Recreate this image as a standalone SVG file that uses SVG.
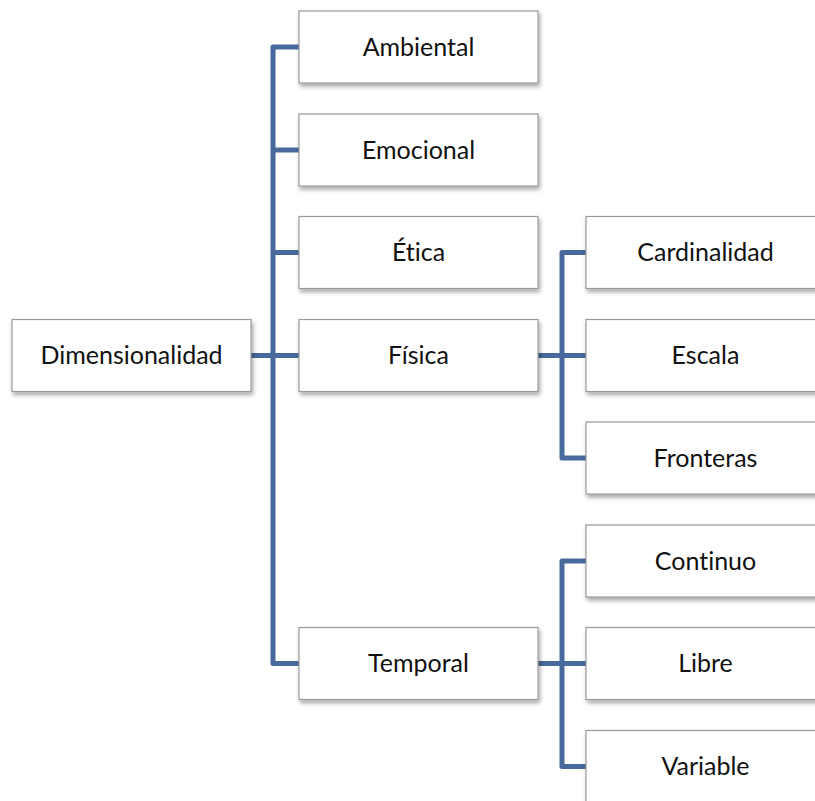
<svg xmlns="http://www.w3.org/2000/svg" width="815" height="801" viewBox="0 0 815 801">
  <defs>
    <filter id="shadow" x="-10%" y="-20%" width="125%" height="150%">
      <feDropShadow dx="1.5" dy="3" stdDeviation="2" flood-color="#000" flood-opacity="0.35"/>
    </filter>
    <style>
      .box { fill: #ffffff; stroke: #9a9a9a; stroke-width: 1.2; filter: url(#shadow); }
      .label { font-family: "Lato", "Liberation Sans", sans-serif; font-size: 25px; fill: #111; text-anchor: middle; font-variant-ligatures: none; font-feature-settings: "liga" 0, "dlig" 0; }
      .link { fill: none; stroke: #47699b; stroke-width: 5; stroke-linejoin: round; }
    </style>
  </defs>
  <rect width="815" height="801" fill="#ffffff"/>

  <!-- connectors -->
  <g id="connectors">
    <!-- root to first level -->
    <path class="link" d="M251 355.5 H299"/>
    <path class="link" d="M299 47 H273 V663.5 H299"/>
    <path class="link" d="M273 150 H299"/>
    <path class="link" d="M273 252.5 H299"/>
    <!-- Física branch -->
    <path class="link" d="M538 355.5 H586"/>
    <path class="link" d="M586 252.5 H562 V458 H586"/>
    <!-- Temporal branch -->
    <path class="link" d="M538 663.5 H586"/>
    <path class="link" d="M586 561 H562 V766.5 H586"/>
  </g>

  <!-- root -->
  <g id="node-dimensionalidad">
    <rect class="box" x="12" y="319.5" width="239" height="72"/>
    <text class="label" x="131.5" y="364">Dimensionalidad</text>
  </g>

  <!-- first level -->
  <g id="node-ambiental">
    <rect class="box" x="299" y="11" width="239" height="72"/>
    <text class="label" x="418.5" y="55.5">Ambiental</text>
  </g>
  <g id="node-emocional">
    <rect class="box" x="299" y="114" width="239" height="72"/>
    <text class="label" x="418.5" y="158.5">Emocional</text>
  </g>
  <g id="node-etica">
    <rect class="box" x="299" y="216.5" width="239" height="72"/>
    <text class="label" x="418.5" y="261">Ética</text>
  </g>
  <g id="node-fisica">
    <rect class="box" x="299" y="319.5" width="239" height="72"/>
    <text class="label" x="418.5" y="364">Física</text>
  </g>
  <g id="node-temporal">
    <rect class="box" x="299" y="627.5" width="239" height="72"/>
    <text class="label" x="418.5" y="672">Temporal</text>
  </g>

  <!-- second level -->
  <g id="node-cardinalidad">
    <rect class="box" x="586" y="216.5" width="239" height="72"/>
    <text class="label" x="705.5" y="261">Cardinalidad</text>
  </g>
  <g id="node-escala">
    <rect class="box" x="586" y="319.5" width="239" height="72"/>
    <text class="label" x="705.5" y="364">Escala</text>
  </g>
  <g id="node-fronteras">
    <rect class="box" x="586" y="422" width="239" height="72"/>
    <text class="label" x="705.5" y="466.5">Fronteras</text>
  </g>
  <g id="node-continuo">
    <rect class="box" x="586" y="525" width="239" height="72"/>
    <text class="label" x="705.5" y="569.5">Continuo</text>
  </g>
  <g id="node-libre">
    <rect class="box" x="586" y="627.5" width="239" height="72"/>
    <text class="label" x="705.5" y="672">Libre</text>
  </g>
  <g id="node-variable">
    <rect class="box" x="586" y="730.5" width="239" height="72"/>
    <text class="label" x="705.5" y="775">Variable</text>
  </g>
</svg>
